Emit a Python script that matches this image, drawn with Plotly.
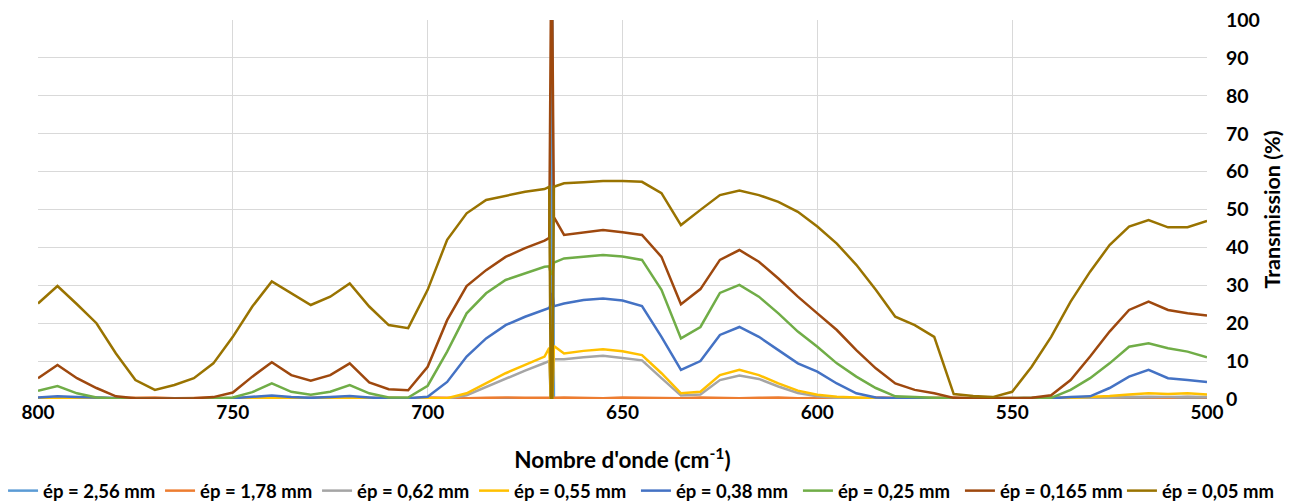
import plotly.graph_objects as go

# wavenumber grid (cm-1), 5 cm-1 steps with a few extra points around the CO2 spike
wn_pre = list(range(800, 669, -5))
wn_spike = [668.8, 668.4, 668.0, 667.6]
wn_post = list(range(665, 499, -5))
wavenumber = wn_pre + wn_spike + wn_post

labels = ["ép = 2,56 mm", "ép = 1,78 mm", "ép = 0,62 mm", "ép = 0,55 mm",
          "ép = 0,38 mm", "ép = 0,25 mm", "ép = 0,165 mm", "ép = 0,05 mm"]
colors = ["#5B9BD5", "#ED7D31", "#A5A5A5", "#FFC000",
          "#4472C4", "#70AD47", "#9E480E", "#997300"]

t_256 = ([0.05, 0.0, 0.1, 0.05, 0.0, 0.1, 0.05, 0.0, 0.05, 0.1, 0.0, 0.05, 0.1, 0.0,
          0.05, 0.1, 0.0, 0.05, 0.1, 0.05, 0.0, 0.1, 0.05, 0.0, 0.1, 0.05, 0.0]
         + [0.0, 0.0, 100, 0.0]
         + [0.05, 0.1, 0.0, 0.05, 0.1, 0.0, 0.05, 0.1, 0.0, 0.05, 0.1, 0.0, 0.05, 0.1,
            0.0, 0.05, 0.1, 0.0, 0.05, 0.1, 0.0, 0.05, 0.1, 0.0, 0.05, 0.1, 0.0, 0.05,
            0.1, 0.0, 0.05, 0.1, 0.0, 0.05])
t_178 = ([0.3, 0.2, 0.4, 0.3, 0.2, 0.3, 0.4, 0.2, 0.3, 0.3, 0.2, 0.4, 0.3, 0.2,
          0.3, 0.4, 0.2, 0.3, 0.3, 0.2, 0.4, 0.3, 0.2, 0.3, 0.4, 0.3, 0.2]
         + [0.3, 0.6, 0.4, 0.3]
         + [0.4, 0.3, 0.2, 0.4, 0.3, 0.3, 0.2, 0.4, 0.3, 0.2, 0.3, 0.4, 0.2, 0.3,
            0.3, 0.2, 0.4, 0.3, 0.2, 0.3, 0.4, 0.2, 0.3, 0.3, 0.2, 0.4, 0.3, 0.2,
            0.3, 0.5, 0.4, 0.3, 0.5, 0.4])
t_062 = ([0.1] * 22 + [1.0, 3.2, 5.5, 7.5, 9.5]
         + [10.0, 0.0, 0.0, 10.5]
         + [10.5, 11.0, 11.4, 10.8, 10.2, 5.5, 0.9, 1.2, 5.0, 6.2, 5.3, 3.3, 1.6, 0.7,
            0.3] + [0.2] * 13 + [0.3, 0.5, 0.6, 0.5, 0.6, 0.5])
t_055 = ([0.2] * 22 + [1.5, 4.1, 6.8, 9.0, 11.2]
         + [13.5, 0.0, 0.0, 14.0]
         + [12.0, 12.7, 13.1, 12.6, 11.6, 6.8, 1.5, 1.9, 6.3, 7.7, 6.3, 4.1, 2.2, 1.1,
            0.6, 0.3, 0.2, 0.2, 0.1, 0.1, 0.1, 0.1, 0.1, 0.1, 0.1, 0.2, 0.3, 0.5,
            0.8, 1.2, 1.5, 1.3, 1.5, 1.2])
t_038 = ([0.4, 0.7, 0.5, 0.3, 0.1, 0.1, 0.1, 0.1, 0.1, 0.1, 0.2, 0.6, 0.9, 0.5,
          0.3, 0.5, 0.8, 0.4, 0.1, 0.2, 0.6, 4.5, 11.2, 16.0, 19.5, 21.7, 23.5]
         + [24.0, 25.0, 28.0, 24.5]
         + [25.2, 26.1, 26.5, 26.0, 24.5, 16.4, 7.7, 10.0, 16.9, 19.0, 16.4, 12.9, 9.4, 7.2,
            4.1, 1.5, 0.4, 0.2, 0.1, 0.1, 0.1, 0.1, 0.1, 0.1, 0.1, 0.2, 0.5, 0.7,
            2.9, 5.9, 7.7, 5.5, 5.0, 4.5])
t_025 = ([2.2, 3.4, 1.5, 0.4, 0.1, 0.0, 0.0, 0.0, 0.0, 0.1, 0.4, 1.8, 4.1, 1.9,
          1.1, 1.9, 3.7, 1.5, 0.4, 0.4, 3.5, 12.5, 22.6, 27.9, 31.4, 33.2, 34.9]
         + [35.0, 33.0, 33.0, 36.0]
         + [37.1, 37.6, 38.0, 37.6, 36.7, 28.8, 16.0, 19.0, 28.0, 30.1, 27.0, 22.6, 17.8, 13.8,
            9.4, 5.9, 2.9, 0.7, 0.4, 0.3, 0.2, 0.2, 0.2, 0.2, 0.2, 0.3, 2.4, 5.5,
            9.4, 13.8, 14.7, 13.4, 12.5, 11.0])
t_0165 = ([5.5, 9.0, 5.5, 2.9, 0.7, 0.2, 0.1, 0.1, 0.2, 0.5, 1.7, 5.9, 9.7, 6.3,
           4.8, 6.3, 9.4, 4.4, 2.6, 2.3, 8.5, 20.8, 29.8, 34.0, 37.5, 39.8, 41.8]
          + [42.5, 100, 100, 48.0]
          + [43.3, 44.0, 44.6, 44.0, 43.3, 37.5, 25.0, 29.0, 36.7, 39.3, 36.2, 31.8, 27.0, 22.6,
             18.2, 12.9, 8.1, 4.1, 2.4, 1.5, 0.3, 0.1, 0.1, 0.2, 0.3, 1.0, 5.0, 11.2,
             17.8, 23.5, 25.7, 23.5, 22.6, 22.0])
t_005 = ([25.2, 29.8, 25.0, 20.0, 12.0, 5.0, 2.4, 3.7, 5.5, 9.4, 16.4, 24.4, 31.0, 28.0,
          24.8, 27.0, 30.5, 24.4, 19.5, 18.7, 28.8, 42.0, 49.0, 52.5, 53.5, 54.7, 55.4]
         + [56.0, 0.0, 0.0, 56.0]
         + [56.9, 57.2, 57.5, 57.5, 57.3, 54.3, 45.9, 49.9, 53.8, 55.0, 53.8, 52.0, 49.4, 45.5,
            41.0, 35.4, 28.8, 21.7, 19.5, 16.4, 1.3, 0.8, 0.5, 1.9, 8.5, 16.4, 25.7, 33.6,
            40.6, 45.5, 47.2, 45.3, 45.3, 47.0])

series = [t_256, t_178, t_062, t_055, t_038, t_025, t_0165, t_005]

font_family = "Lato, 'Open Sans', sans-serif"

fig = go.Figure()
for i, (name, color, values) in enumerate(zip(labels, colors, series)):
    fig.add_trace(go.Scatter(
        x=wavenumber,
        y=values,
        name=name,
        mode="lines",
        line=dict(color=color, width=2.5),
        legend="legend" if i < 4 else "legend2",
    ))

legend_style = dict(
    orientation="h",
    xanchor="left",
    y=-0.243,
    yanchor="middle",
    font=dict(size=18.5, weight="bold"),
    itemwidth=30,
    bgcolor="rgba(0,0,0,0)",
)

# page body has an 8px default margin, so the figure margins are shifted by that
fig.update_layout(
    width=1298,
    height=504,
    margin=dict(l=30, r=99, t=12, b=113, autoexpand=False),
    plot_bgcolor="white",
    paper_bgcolor="white",
    font=dict(family=font_family, color="#000000"),
    showlegend=True,
    legend=dict(legend_style, x=-0.0299, entrywidth=112),
    legend2=dict(legend_style, x=0.5115, entrywidth=117),
    annotations=[dict(
        text="Transmission (%)",
        textangle=-90,
        xref="paper", yref="paper",
        x=1.0556, y=0.5,
        xanchor="center", yanchor="middle",
        showarrow=False,
        font=dict(size=21.5, weight="bold"),
    )],
)

fig.update_xaxes(
    range=[800, 500],
    tickvals=[800, 750, 700, 650, 600, 550, 500],
    automargin=False,
    showgrid=True,
    gridcolor="#D9D9D9",
    gridwidth=1,
    zeroline=False,
    showline=False,
    ticks="",
    ticklabelstandoff=0,
    ticklabeloverflow="allow",
    tickfont=dict(size=19, weight="bold"),
    title=dict(text="Nombre d'onde (cm<sup>-1</sup>)",
               font=dict(size=22.5, weight="bold"), standoff=30),
)
fig.update_yaxes(
    range=[0, 100],
    tickvals=[0, 10, 20, 30, 40, 50, 60, 70, 80, 90, 100],
    side="right",
    automargin=False,
    showgrid=True,
    gridcolor="#D9D9D9",
    gridwidth=1,
    zeroline=False,
    showline=False,
    ticks="",
    ticklabelstandoff=18,
    ticklabeloverflow="allow",
    tickfont=dict(size=19.5, weight="bold"),
)

fig.write_html("out.html")
